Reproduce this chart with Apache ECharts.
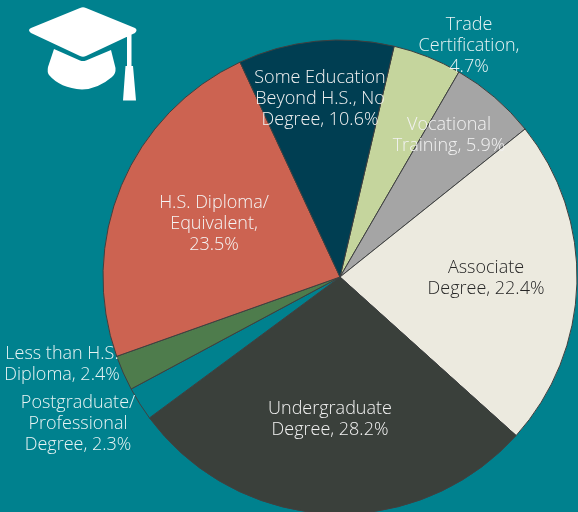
<!DOCTYPE html>
<html>
<head>
<meta charset="utf-8">
<style>
html, body { margin: 0; padding: 0; background: #00818e; }
#chart { width: 578px; height: 512px; }
</style>
</head>
<body>
<div id="chart"></div>
<script src="https://cdn.jsdelivr.net/npm/echarts@6/dist/echarts.min.js"></script>
<script>
const categories = [
  'Trade\nCertification,',
  'Vocational\nTraining,',
  'Associate\nDegree,',
  'Undergraduate\nDegree,',
  'Postgraduate/\nProfessional\nDegree,',
  'Less than H.S.\nDiploma,',
  'H.S. Diploma/\nEquivalent,',
  'Some Education\nBeyond H.S., No\nDegree,',
]
const values = [4.7, 5.9, 22.4, 28.2, 2.3, 2.4, 23.5, 10.6]
const colors = ['#c5d59d', '#a5a5a5', '#eceadf', '#3a403b', '#00818e', '#4e7c4c', '#cc6351', '#003e52']
const labelColors = ['#e8f4f4', '#f2f2f2', '#262626', '#f2f2f2', '#e8f4f4', '#e8f4f4', '#f5f5f5', '#f2f2f2']
// label centres in px, the labels were placed by hand in the original
const labelPos = [[469, 46], [449, 135], [486, 278], [330, 419], [78, 424], [62, 364], [214, 224], [320, 99]]
// these two have the value alone on its own line
const valueOnOwnLine = [0, 6]

// graduation cap icon, the graphic component only knows registered shapes
const hatPath =
  'M80 8 Q83 6.5 86 8 L135 28 Q138 30 135 33 L86 56 Q83 57.5 80 56 L31 33 Q27 30 31 28 Z ' +
  'M54 49 L80 60.5 Q83 61.5 86 60.5 L111 50 L115.5 68 Q116 74 112 77 Q98 89 82 89.5 Q60 88 49 75 Q47 72 48 67 Z ' +
  'M127 36 L131.5 34 L131.5 66 L133 66 L136 100.5 L123 100.5 L125.5 66 L127 66 Z'
echarts.graphic.registerShape('hat', echarts.graphic.extendPath(hatPath))

function labelText(i) {
  let sep = valueOnOwnLine.includes(i) ? '\n' : ' '
  return categories[i] + sep + values[i] + '%'
}

const chart = echarts.init(document.getElementById('chart'))

chart.setOption({
  backgroundColor: '#00818e',
  animation: false,
  graphic: [
    {
      type: 'hat',
      silent: true,
      style: { fill: '#ffffff' },
    },
  ],
  series: [
    {
      type: 'pie',
      center: [340, 277],
      radius: [0, 237],
      startAngle: 76.8,
      clockwise: true,
      avoidLabelOverlap: false,
      data: values.map((v, i) => ({
        name: categories[i],
        value: v,
        itemStyle: { color: colors[i] },
        label: { color: labelColors[i] },
      })),
      itemStyle: { borderColor: '#404040', borderWidth: 1 },
      label: {
        show: true,
        position: 'inside',
        fontFamily: 'Open Sans',
        fontWeight: 300,
        fontSize: 18,
        lineHeight: 21,
        align: 'center',
        verticalAlign: 'middle',
        formatter: p => labelText(p.dataIndex),
      },
      labelLine: { show: false },
      labelLayout: p => ({
        x: labelPos[p.dataIndex][0],
        y: labelPos[p.dataIndex][1],
        align: 'center',
        verticalAlign: 'middle',
      }),
    },
  ],
})
</script>
</body>
</html>
